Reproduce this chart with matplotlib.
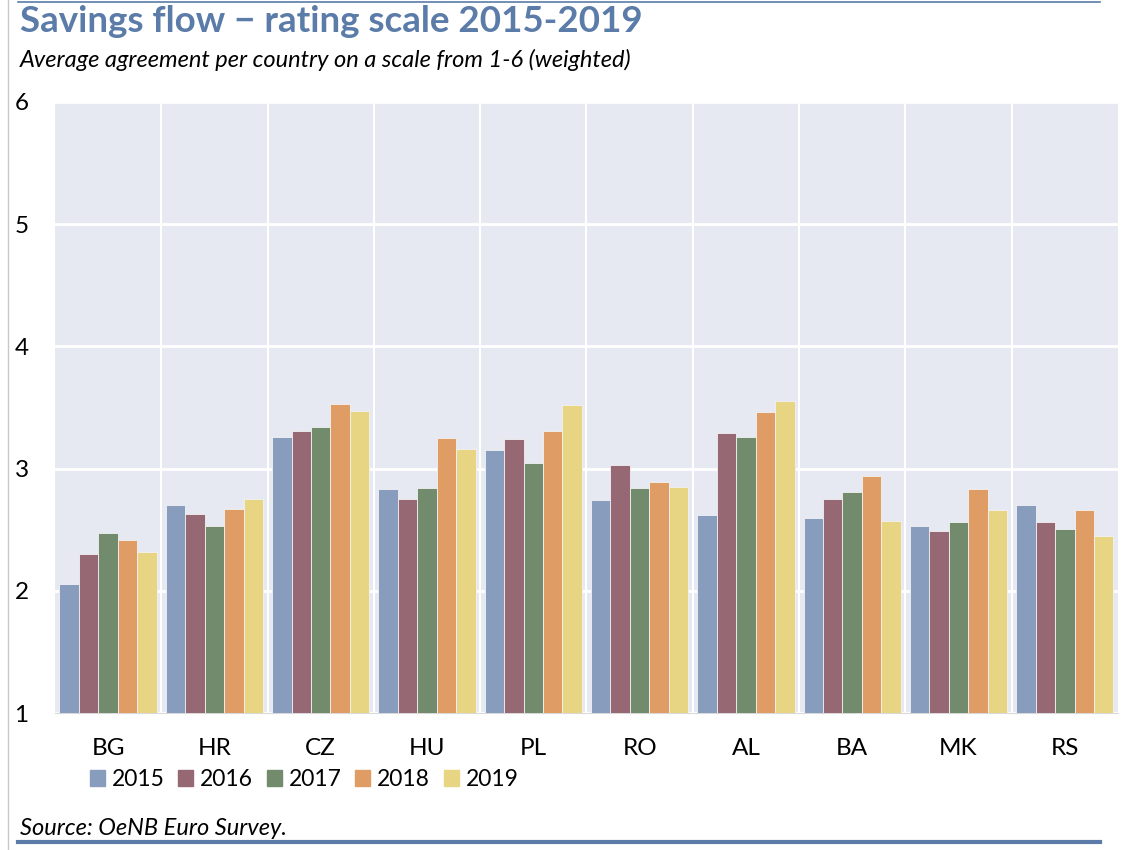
import numpy as np
from matplotlib import pyplot as plt
from matplotlib.lines import Line2D
from matplotlib.patches import Patch

countries = ["BG", "HR", "CZ", "HU", "PL", "RO", "AL", "BA", "MK", "RS"]
years = ["2015", "2016", "2017", "2018", "2019"]

v2015 = [2.06, 2.70, 3.26, 2.83, 3.15, 2.74, 2.62, 2.60, 2.53, 2.70]
v2016 = [2.30, 2.63, 3.31, 2.75, 3.24, 3.03, 3.29, 2.75, 2.49, 2.56]
v2017 = [2.47, 2.53, 3.34, 2.84, 3.05, 2.84, 3.26, 2.81, 2.56, 2.51]
v2018 = [2.42, 2.67, 3.53, 3.25, 3.31, 2.89, 3.46, 2.94, 2.83, 2.66]
v2019 = [2.32, 2.75, 3.47, 3.16, 3.52, 2.85, 3.55, 2.57, 2.66, 2.45]

colors = ["#889CBE", "#956873", "#728B6D", "#DF9D65", "#E8D584"]
title_col = "#5B7BA8"

plt.rcParams['font.family'] = ['Lato', 'DejaVu Sans']

fig = plt.figure(figsize=(11.22, 8.5), dpi=100)
ax = fig.add_axes([0.049, 0.161, 0.9474, 0.719])
ax.set_facecolor("#E6E9F1")

x = np.arange(len(countries))
w = 0.183
series = [v2015, v2016, v2017, v2018, v2019]
for i, vals in enumerate(series):
    ax.bar(x + (i - 2) * w, np.array(vals) - 1, bottom=1, width=w,
           color=colors[i], edgecolor="#F2F2F2", linewidth=0.6, zorder=3)

ax.set_xlim(-0.5, len(countries) - 0.5)
ax.set_ylim(1, 6)
ax.set_yticks([1, 2, 3, 4, 5, 6])
ax.set_xticks(x)
ax.set_xticklabels(countries)
for b in np.arange(0.5, len(countries) - 0.5, 1):
    ax.axvline(b, color="white", lw=1.5, zorder=1)
ax.grid(axis="y", color="white", lw=2, zorder=1)
ax.set_axisbelow(True)
for s in ["top", "right", "left"]:
    ax.spines[s].set_visible(False)
ax.spines["bottom"].set_color("#D9D9D9")
ax.tick_params(axis="both", length=0, labelsize=17.5)
ax.tick_params(axis="y", pad=19)
ax.tick_params(axis="x", pad=18)

fig.text(0.018, 0.975, "Savings flow \u2212 rating scale 2015-2019", fontsize=26.5,
         fontweight="bold", color=title_col, va="center")
fig.text(0.018, 0.929, "Average agreement per country on a scale from 1-6 (weighted)",
         fontsize=17, style="italic", color="black", va="center")
fig.text(0.018, 0.025, "Source: OeNB Euro Survey.", fontsize=17,
         style="italic", color="black", va="center")

handles = [Patch(color=c, label=y) for c, y in zip(colors, years)]
fig.legend(handles=handles, loc="center left", bbox_to_anchor=(0.072, 0.083),
           ncol=5, frameon=False, fontsize=16.5, handlelength=0.65,
           handleheight=0.65, handletextpad=0.3, columnspacing=0.6,
           borderaxespad=0)

fig.add_artist(Line2D([0.016, 0.98], [0.998, 0.998], color=title_col, lw=1.2))
fig.add_artist(Line2D([0.016, 0.98], [0.01, 0.01], color=title_col, lw=3))
fig.add_artist(Line2D([0.007, 0.007], [0.0, 1.0], color="#C8C8C8", lw=1))

fig.savefig("out.png", dpi=100)
